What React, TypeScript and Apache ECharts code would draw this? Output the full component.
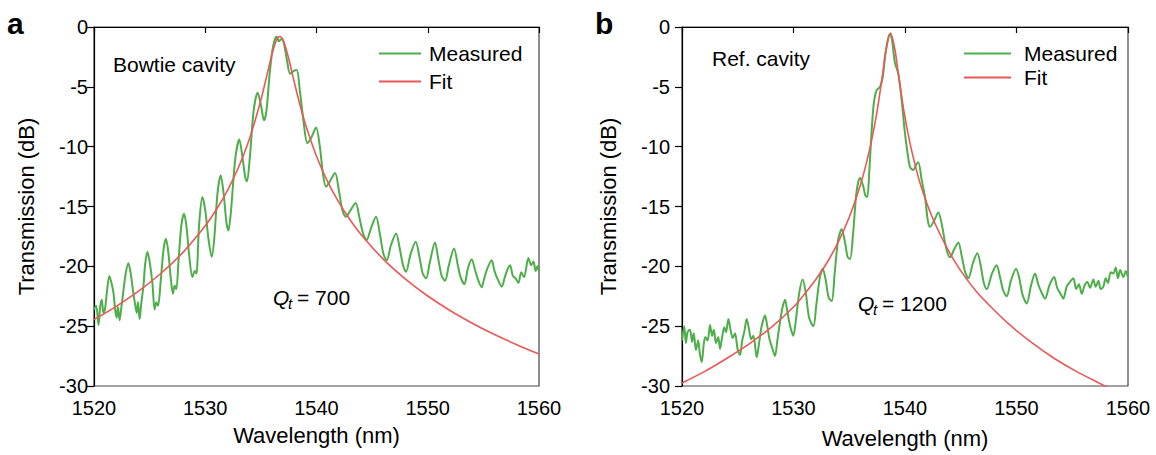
import React, { useEffect, useRef } from "react";
import * as echarts from "echarts";

const FONT = "'Liberation Sans', Arial, Helvetica, sans-serif";
const GREEN = "#4dae4a";
const RED = "#ec5757";

// Axis ticks
const xTicks = [1520, 1530, 1540, 1550, 1560];
const yTicks = [-30, -25, -20, -15, -10, -5, 0];

// Panel a: Lorentzian fit [wavelength nm, dB]
const fitA: number[][] = [
  [1520, -24.45], [1522, -23.34], [1524, -22.08], [1526, -20.6], [1528, -18.83],
  [1530, -16.61], [1531, -15.25], [1532, -13.65], [1533, -11.7], [1534, -9.27],
  [1535, -6.1], [1535.5, -4.2], [1536, -2.28], [1536.4, -1.11], [1536.7, -0.8],
  [1537, -1.11], [1537.4, -2.28], [1538, -4.6], [1538.5, -6.46], [1539, -8.1],
  [1540, -10.8], [1541, -12.92], [1542, -14.64], [1543, -16.09], [1544, -17.34],
  [1546, -19.4], [1548, -21.07], [1550, -22.48], [1552, -23.69], [1554, -24.75],
  [1556, -25.7], [1558, -26.55], [1560, -27.33],
];

// Panel a: measured transmission [wavelength nm, dB]
const measuredA: number[][] = [
  [1520.0, -23.6], [1520.2, -23.3], [1520.4, -24.9], [1520.55, -23.4], [1520.7, -22.8], [1520.85, -23.9],
  [1521.0, -23.5], [1521.2, -21.8], [1521.38, -20.8], [1521.55, -21.3], [1521.75, -22.2], [1521.9, -23.6],
  [1522.04, -24.3], [1522.15, -23.4], [1522.3, -24.5], [1522.45, -23.5], [1522.6, -22.4], [1522.85, -20.6],
  [1523.09, -19.75], [1523.3, -20.6], [1523.5, -22.0], [1523.7, -23.2], [1523.84, -23.9], [1523.95, -23.0],
  [1524.1, -24.4], [1524.25, -23.1], [1524.45, -21.6], [1524.6, -19.8], [1524.8, -18.8], [1525.0, -19.6],
  [1525.25, -21.4], [1525.45, -23.6], [1525.6, -23.0], [1525.75, -23.3], [1526.0, -21.2], [1526.25, -18.6],
  [1526.47, -17.7], [1526.7, -19.0], [1526.9, -21.0], [1527.1, -22.3], [1527.25, -21.6], [1527.4, -21.9],
  [1527.6, -19.5], [1527.85, -16.6], [1528.09, -15.6], [1528.3, -16.6], [1528.55, -19.0], [1528.85, -20.9],
  [1529.05, -20.4], [1529.2, -20.6], [1529.45, -16.5], [1529.74, -14.2], [1530.0, -15.3], [1530.3, -17.8],
  [1530.58, -19.2], [1530.8, -17.8], [1531.1, -13.9], [1531.39, -12.4], [1531.65, -13.9], [1531.9, -16.3],
  [1532.08, -17.0], [1532.3, -15.5], [1532.7, -11.0], [1533.06, -9.4], [1533.35, -10.9], [1533.6, -12.6],
  [1533.75, -12.9], [1534.0, -11.0], [1534.35, -7.0], [1534.71, -5.5], [1535.0, -6.5], [1535.28, -7.8],
  [1535.5, -7.0], [1535.8, -3.8], [1536.1, -1.6], [1536.42, -0.8], [1536.62, -1.2], [1536.85, -1.0],
  [1537.05, -1.3], [1537.35, -2.8], [1537.62, -3.9], [1537.9, -3.7], [1538.22, -3.6], [1538.5, -5.3],
  [1538.85, -8.0], [1539.18, -9.7], [1539.5, -9.3], [1539.96, -8.4], [1540.3, -10.0], [1540.6, -12.4],
  [1540.86, -13.35], [1541.2, -12.9], [1541.67, -12.2], [1542.0, -13.6], [1542.35, -15.4], [1542.65, -15.85],
  [1543.0, -15.4], [1543.52, -14.7], [1543.85, -15.9], [1544.2, -17.3], [1544.51, -17.8], [1544.9, -16.8],
  [1545.35, -15.85], [1545.7, -17.3], [1546.0, -18.9], [1546.31, -19.5], [1546.7, -18.2], [1547.15, -17.25],
  [1547.5, -18.6], [1547.8, -20.0], [1548.05, -20.45], [1548.45, -19.0], [1548.92, -17.95], [1549.25, -19.2],
  [1549.55, -20.6], [1549.85, -21.0], [1550.2, -19.6], [1550.65, -18.0], [1550.95, -19.4], [1551.25, -20.8],
  [1551.55, -21.2], [1551.9, -19.9], [1552.36, -18.5], [1552.7, -19.9], [1552.95, -20.9], [1553.29, -21.5],
  [1553.6, -20.2], [1553.95, -19.4], [1554.25, -20.3], [1554.55, -21.2], [1554.85, -21.75], [1555.05, -21.1],
  [1555.35, -20.2], [1555.75, -19.5], [1556.0, -20.4], [1556.3, -21.1], [1556.65, -21.7], [1556.9, -21.0],
  [1557.15, -20.3], [1557.4, -19.9], [1557.65, -20.8], [1557.9, -21.0], [1558.15, -21.4], [1558.4, -20.5],
  [1558.65, -20.9], [1559.05, -19.3], [1559.3, -19.9], [1559.5, -19.6], [1559.7, -20.4], [1559.85, -20.0],
  [1560.0, -20.4],
];

// Panel b: Lorentzian fit
const fitB: number[][] = [
  [1520, -29.75], [1522, -28.8], [1524, -27.7], [1526, -26.5], [1528, -25.1], [1530, -23.4],
  [1531, -22.3], [1532, -21.1], [1533, -19.7], [1534, -18.0], [1535, -15.9], [1536, -13.2],
  [1536.5, -11.5], [1537, -9.5], [1537.5, -7.0], [1538, -3.9], [1538.3, -1.9], [1538.7, -0.5],
  [1539.1, -1.9], [1539.4, -3.9], [1539.9, -7.0], [1540.4, -9.5], [1540.9, -11.5], [1541.4, -13.2],
  [1542.4, -15.8], [1543.4, -17.8], [1544.4, -19.5], [1545.4, -20.9], [1546.4, -22.1], [1547.4, -23.1],
  [1549.4, -24.9], [1551.4, -26.4], [1553.4, -27.7], [1555.4, -28.8], [1557.4, -29.75], [1559, -30.5],
];

// Panel b: measured transmission
const measuredB: number[][] = [
  [1520.0, -26.2], [1520.2, -25.0], [1520.35, -26.4], [1520.5, -25.5], [1520.72, -25.3], [1520.9, -26.3],
  [1521.05, -25.6], [1521.25, -27.0], [1521.45, -26.2], [1521.6, -27.3], [1521.77, -28.0], [1521.95, -26.5],
  [1522.1, -25.9], [1522.3, -26.2], [1522.51, -24.9], [1522.7, -25.8], [1522.85, -25.3], [1523.05, -26.4],
  [1523.25, -25.9], [1523.41, -26.9], [1523.6, -25.9], [1523.8, -25.1], [1523.95, -25.5], [1524.16, -24.4],
  [1524.35, -25.3], [1524.55, -26.0], [1524.75, -25.6], [1525.0, -27.0], [1525.2, -27.4], [1525.4, -26.2],
  [1525.6, -25.4], [1525.8, -24.4], [1526.0, -25.2], [1526.2, -26.1], [1526.4, -25.8], [1526.7, -27.6],
  [1526.9, -26.5], [1527.1, -25.2], [1527.25, -24.6], [1527.44, -24.1], [1527.65, -25.0], [1527.85, -26.1],
  [1528.05, -26.7], [1528.34, -27.5], [1528.55, -26.2], [1528.8, -24.6], [1529.0, -23.5], [1529.24, -22.8],
  [1529.45, -23.8], [1529.7, -25.0], [1529.98, -25.8], [1530.2, -24.6], [1530.5, -22.3], [1530.82, -21.1],
  [1531.1, -22.2], [1531.4, -24.3], [1531.78, -25.0], [1532.05, -23.2], [1532.35, -21.0], [1532.62, -20.2],
  [1532.9, -21.2], [1533.15, -22.6], [1533.43, -22.9], [1533.7, -20.5], [1534.0, -17.8], [1534.32, -16.9],
  [1534.6, -17.9], [1534.85, -19.2], [1535.07, -19.4], [1535.35, -17.2], [1535.65, -13.8], [1535.97, -12.6],
  [1536.25, -13.3], [1536.45, -14.1], [1536.62, -14.2], [1536.8, -12.0], [1537.0, -8.8], [1537.2, -6.4],
  [1537.45, -5.3], [1537.76, -5.0], [1538.0, -4.2], [1538.25, -2.2], [1538.5, -0.9], [1538.66, -0.6],
  [1538.85, -1.2], [1539.1, -3.0], [1539.4, -3.9], [1539.7, -6.1], [1539.95, -8.5], [1540.15, -10.0],
  [1540.45, -11.7], [1540.75, -11.95], [1541.0, -11.5], [1541.19, -11.3], [1541.5, -12.8], [1541.79, -14.2],
  [1542.05, -16.2], [1542.24, -16.7], [1542.6, -16.2], [1542.99, -15.5], [1543.3, -16.5], [1543.7, -18.5],
  [1544.04, -19.25], [1544.4, -18.6], [1544.78, -18.0], [1545.1, -19.2], [1545.4, -20.5], [1545.68, -21.0],
  [1546.1, -19.7], [1546.49, -18.9], [1546.8, -20.0], [1547.05, -21.3], [1547.33, -21.9], [1547.8, -20.6],
  [1548.22, -19.9], [1548.5, -20.8], [1548.8, -22.0], [1549.12, -22.5], [1549.5, -21.2], [1549.96, -20.2],
  [1550.25, -21.0], [1550.55, -22.4], [1550.92, -23.1], [1551.3, -21.6], [1551.66, -20.6], [1551.95, -21.5],
  [1552.25, -22.2], [1552.56, -22.7], [1552.95, -21.6], [1553.37, -20.9], [1553.65, -21.8], [1553.95, -22.3],
  [1554.2, -22.7], [1554.5, -21.7], [1554.8, -21.3], [1555.1, -21.0], [1555.35, -21.9], [1555.6, -21.5],
  [1555.85, -22.3], [1556.1, -21.6], [1556.35, -21.3], [1556.6, -21.8], [1556.89, -21.1], [1557.1, -21.7],
  [1557.35, -21.2], [1557.55, -21.9], [1557.79, -21.7], [1558.0, -21.0], [1558.2, -21.4], [1558.45, -20.5],
  [1558.68, -20.6], [1558.9, -20.1], [1559.1, -21.0], [1559.3, -20.3], [1559.58, -20.9], [1559.8, -20.4],
  [1560.0, -20.9],
];

const seriesNames = ["Measured", "Fit"];
const panelLetters = ["a", "b"];
const panelTitles = ["Bowtie cavity", "Ref. cavity"];
const qValues = ["700", "1200"];

function xAxis(gridIndex: number, nameGap: number) {
  return {
    type: "value",
    gridIndex,
    min: xTicks[0],
    max: xTicks[xTicks.length - 1],
    interval: 10,
    axisLine: { show: true, lineStyle: { color: "#000", width: 1.2 } },
    axisTick: { show: true, length: 6, lineStyle: { color: "#000", width: 1.2 } },
    axisLabel: {
      fontSize: 20, color: "#000", fontFamily: FONT, margin: 12,
      formatter: (v: number) => String(v),
    },
    splitLine: { show: false },
    name: "Wavelength (nm)",
    nameLocation: "middle",
    nameGap,
    nameTextStyle: { fontSize: 22, color: "#000", fontFamily: FONT },
  };
}

function yAxis(gridIndex: number, labelMargin: number, nameGap: number) {
  return {
    type: "value",
    gridIndex,
    min: yTicks[0],
    max: yTicks[yTicks.length - 1],
    interval: 5,
    axisLine: { show: true, lineStyle: { color: "#000", width: 1.2 } },
    axisTick: { show: true, length: 7, lineStyle: { color: "#000", width: 1.2 } },
    axisLabel: { fontSize: 20, color: "#000", fontFamily: FONT, margin: labelMargin },
    splitLine: { show: false },
    name: "Transmission (dB)",
    nameLocation: "middle",
    nameGap,
    nameTextStyle: { fontSize: 22, color: "#000", fontFamily: FONT },
  };
}

function lineSeries(name: string, idx: number, data: number[][], color: string, width: number) {
  return {
    name,
    type: "line",
    xAxisIndex: idx,
    yAxisIndex: idx,
    data,
    symbol: "none",
    showSymbol: false,
    smooth: 0.3,
    clip: true,
    lineStyle: { color, width },
    itemStyle: { color },
  };
}

function qLabel(x: number, y: number, value: string) {
  return [
    { type: "text", x, y, style: { text: "Q", font: `italic 21px ${FONT}`, fill: "#000", textVerticalAlign: "middle" } },
    { type: "text", x: x + 15, y: y + 6, style: { text: "t", font: `italic 15px ${FONT}`, fill: "#000", textVerticalAlign: "middle" } },
    { type: "text", x: x + 24, y, style: { text: "= " + value, font: `21px ${FONT}`, fill: "#000", textVerticalAlign: "middle" } },
  ];
}

function legend(left: number, top: number, itemWidth: number, gap: number, textPad: number) {
  return {
    data: seriesNames.map((n) => ({ name: n, icon: "rect" })),
    orient: "vertical",
    left,
    top,
    itemWidth,
    itemHeight: 2,
    itemGap: gap,
    selectedMode: false,
    textStyle: { fontSize: 21, lineHeight: 20, color: "#000", fontFamily: FONT, padding: [0, 0, 0, textPad] },
  };
}

export default function App() {
  const ref = useRef<HTMLDivElement>(null);
  useEffect(() => {
    if (!ref.current) return;
    const chart = echarts.init(ref.current, null, { renderer: "svg" });
    const option: any = {
      animation: false,
      backgroundColor: "#fff",
      grid: [
        { left: 94, top: 27, width: 445, height: 359, show: true, borderColor: "#444", borderWidth: 1.2, backgroundColor: "transparent" },
        { left: 682, top: 27, width: 446, height: 359, show: true, borderColor: "#444", borderWidth: 1.2, backgroundColor: "transparent" },
      ],
      xAxis: [xAxis(0, 38), xAxis(1, 41)],
      yAxis: [yAxis(0, 6, 57), yAxis(1, 12, 63)],
      legend: [legend(374, 38, 42, 7, 3), legend(959, 38, 47, 3, 8)],
      series: [
        lineSeries(seriesNames[0], 0, measuredA, GREEN, 2),
        lineSeries(seriesNames[1], 0, fitA, RED, 1.6),
        lineSeries(seriesNames[0], 1, measuredB, GREEN, 2),
        lineSeries(seriesNames[1], 1, fitB, RED, 1.6),
      ],
      graphic: [
        { type: "text", x: 7, y: 8, style: { text: panelLetters[0], font: `bold 30px ${FONT}`, fill: "#000" } },
        { type: "text", x: 595, y: 8, style: { text: panelLetters[1], font: `bold 30px ${FONT}`, fill: "#000" } },
        { type: "text", x: 113, y: 64, style: { text: panelTitles[0], font: `21px ${FONT}`, fill: "#000", textVerticalAlign: "middle" } },
        { type: "text", x: 712, y: 58, style: { text: panelTitles[1], font: `21px ${FONT}`, fill: "#000", textVerticalAlign: "middle" } },
        ...qLabel(273, 297, qValues[0]),
        ...qLabel(858, 303, qValues[1]),
      ],
    };
    chart.setOption(option);
    return () => chart.dispose();
  }, []);
  return (
    <div
      ref={ref}
      style={{ position: "fixed", left: 0, top: 0, width: 1156, height: 455, background: "#fff" }}
    />
  );
}
